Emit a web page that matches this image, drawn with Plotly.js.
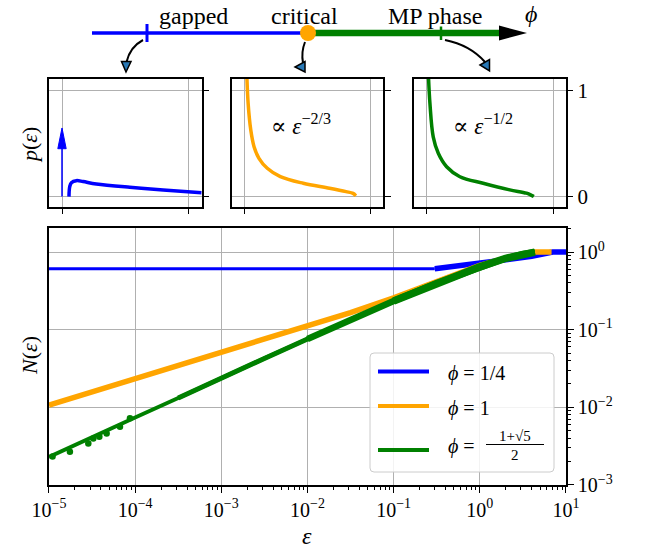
<!DOCTYPE html>
<html><head><meta charset="utf-8">
<script src="https://cdn.plot.ly/plotly-3.0.1.min.js"></script>
<style>body{margin:0;padding:0;background:#fff}#chart{width:647px;height:548px}</style>
</head><body><div id="chart"></div>
<script>
// ---------- main panel data: N(eps) ----------
const epsBlueFlat = [1e-5, 1e-4, 1e-3, 1e-2, 1e-1, 0.3];
const nBlueFlat   = [0.608, 0.608, 0.608, 0.608, 0.608, 0.608];
const epsBlueTail = [0.3, 0.5, 1, 2, 4, 7, 10];
const nBlueTail   = [0.61, 0.66, 0.72, 0.80, 0.88, 1.0, 1.0];

const epsOrange = [1e-5, 3.16e-5, 1e-4, 3.16e-4, 1e-3, 3.16e-3, 1e-2, 3.16e-2, 0.1, 0.316, 1, 2, 3.16, 4.4, 6.8];
const nOrange   = [0.0107, 0.0158, 0.0229, 0.0339, 0.0501, 0.0741, 0.110, 0.166, 0.257, 0.417, 0.676, 0.832, 0.933, 1.0, 1.0];

const epsGreen = [1e-5, 3.16e-5, 1e-4, 3.16e-4, 1e-3, 3.16e-3, 1e-2, 3.16e-2, 0.1, 0.316, 1, 2, 3.16, 4.35];
const nGreen   = [0.00229, 0.00417, 0.00741, 0.0132, 0.0240, 0.0427, 0.0759, 0.135, 0.234, 0.398, 0.646, 0.832, 0.944, 1.0];
const epsGreenDots = [1.1e-5, 1.75e-5, 2.86e-5, 3.27e-5, 3.84e-5, 4.67e-5, 6.67e-5, 8.7e-5];
const nGreenDots   = [0.00232, 0.00267, 0.00343, 0.00398, 0.00418, 0.00462, 0.00562, 0.00723];

// ---------- small panels: p(eps) ----------
const p1X = [0.055, 0.061, 0.074, 0.113, 0.166, 0.27, 0.534, 0.797, 1.1];
const p1Y = [0.0, 0.094, 0.131, 0.15, 0.141, 0.119, 0.088, 0.063, 0.037];
const p1DeltaX = [0, 0];
const p1DeltaY = [0, 0.46];
const p2X = [0.014, 0.026, 0.047, 0.073, 0.112, 0.178, 0.282, 0.464, 0.673, 0.804, 0.86, 0.882];
const p2Y = [1.2, 0.875, 0.625, 0.469, 0.36, 0.266, 0.187, 0.125, 0.079, 0.047, 0.03, 0.007];
const p3X = [0.012, 0.026, 0.052, 0.092, 0.158, 0.263, 0.447, 0.658, 0.79, 0.83, 0.848];
const p3Y = [1.2, 0.875, 0.562, 0.407, 0.281, 0.187, 0.125, 0.063, 0.032, 0.012, 0.0];

// ---------- tick labels ----------
const xTickVals = [1e-5, 1e-4, 1e-3, 1e-2, 1e-1, 1, 10];
const xTickText = ['10<sup>−5</sup>', '10<sup>−4</sup>', '10<sup>−3</sup>', '10<sup>−2</sup>', '10<sup>−1</sup>', '10<sup>0</sup>', '10<sup>1</sup>'];
const yTickVals = [1e-3, 1e-2, 1e-1, 1];
const yTickText = ['10<sup>−3</sup>', '10<sup>−2</sup>', '10<sup>−1</sup>', '10<sup>0</sup>'];
const pTickVals = [0, 1];
const pTickText = ['0', '1'];

// ---------- schematic (overlay coordinates, pixel-like) ----------
const phaseBlueX = [92, 307], phaseBlueY = [33, 33];
const phaseGreenX = [307, 503], phaseGreenY = [33, 33];
const phaseCritX = [308], phaseCritY = [33];
const phaseLabels = ['gapped', 'critical', 'MP phase'];
const phaseLabelX = [193, 304, 435];

const FONT = "'Liberation Serif', 'DejaVu Serif', serif";
const BLUE = '#0000ff', ORANGE = '#ffa500', GREEN = '#008000', GRID = '#b0b0b0';

const traces = [
  {x: epsBlueFlat, y: nBlueFlat, mode: 'lines', line: {color: BLUE, width: 3}, xaxis: 'x', yaxis: 'y'},
  {x: epsBlueTail, y: nBlueTail, mode: 'lines', line: {color: BLUE, width: 5.5}, xaxis: 'x', yaxis: 'y'},
  {x: epsOrange, y: nOrange, mode: 'lines', line: {color: ORANGE, width: 5.5}, xaxis: 'x', yaxis: 'y'},
  {x: epsGreen, y: nGreen, mode: 'lines', line: {color: GREEN, width: 4}, xaxis: 'x', yaxis: 'y'},
  {x: epsGreen.slice(3), y: nGreen.slice(3), mode: 'lines', line: {color: GREEN, width: 5}, xaxis: 'x', yaxis: 'y'},
  {x: epsGreen.slice(6), y: nGreen.slice(6), mode: 'lines', line: {color: GREEN, width: 6.5}, xaxis: 'x', yaxis: 'y'},
  {x: epsGreen.slice(8), y: nGreen.slice(8), mode: 'lines', line: {color: GREEN, width: 7.5}, xaxis: 'x', yaxis: 'y'},
  {x: epsGreenDots, y: nGreenDots, mode: 'markers', marker: {color: GREEN, size: 6.5}, xaxis: 'x', yaxis: 'y'},

  {x: p1DeltaX, y: p1DeltaY, mode: 'lines', line: {color: BLUE, width: 1.5}, xaxis: 'x2', yaxis: 'y2'},
  {x: p1X, y: p1Y, mode: 'lines', line: {color: BLUE, width: 3.5, shape: 'spline'}, xaxis: 'x2', yaxis: 'y2'},
  {x: p2X, y: p2Y, mode: 'lines', line: {color: ORANGE, width: 3.5, shape: 'spline'}, xaxis: 'x3', yaxis: 'y3'},
  {x: p3X, y: p3Y, mode: 'lines', line: {color: GREEN, width: 3.5, shape: 'spline'}, xaxis: 'x4', yaxis: 'y4'},

  {x: phaseBlueX, y: phaseBlueY, mode: 'lines', line: {color: BLUE, width: 3.5}, xaxis: 'x5', yaxis: 'y5'},
  {x: phaseGreenX, y: phaseGreenY, mode: 'lines', line: {color: GREEN, width: 6.5}, xaxis: 'x5', yaxis: 'y5'},
  {x: phaseCritX, y: phaseCritY, mode: 'markers', marker: {color: ORANGE, size: 16}, xaxis: 'x5', yaxis: 'y5'}
];

function smallX(domain, anchor) {
  return {domain: domain, range: [-0.1, 1.1], anchor: anchor, tickvals: pTickVals, ticks: 'outside',
    ticklen: 6, tickwidth: 1.3, tickcolor: 'black', showticklabels: false, showgrid: true,
    gridcolor: GRID, gridwidth: 1.2, zeroline: false, showline: true, linecolor: 'black',
    linewidth: 1.5, mirror: true, fixedrange: true};
}
function smallY(anchor, labels) {
  return {domain: [0.6228, 0.8558], range: [-0.095, 1.105], anchor: anchor, side: 'right',
    tickvals: pTickVals, ticktext: pTickText, ticks: 'outside', ticklen: 6, tickwidth: 1.3,
    tickcolor: 'black', showticklabels: labels, tickfont: {family: FONT, size: 21, color: 'black'},
    showgrid: true, gridcolor: GRID, gridwidth: 1.2, zeroline: false, showline: true,
    linecolor: 'black', linewidth: 1.5, mirror: true, fixedrange: true};
}

const shapes = [
  // phase-line arrowhead and ticks
  {type: 'path', xref: 'x5', yref: 'y5', path: 'M 499 25.5 L 527 33 L 499 40.5 Z', fillcolor: 'black', line: {width: 0}},
  {type: 'line', xref: 'x5', yref: 'y5', x0: 147, x1: 147, y0: 24, y1: 42, line: {color: BLUE, width: 3}},
  {type: 'line', xref: 'x5', yref: 'y5', x0: 441, x1: 441, y0: 26.5, y1: 40, line: {color: GREEN, width: 2.5}},
  // curved arrows
  {type: 'path', xref: 'x5', yref: 'y5', path: 'M 143 40 Q 130 47 126.5 62', line: {color: 'black', width: 2}},
  {type: 'path', xref: 'x5', yref: 'y5', path: 'M 121.5 61.5 L 131 61.5 L 126 72 Z', fillcolor: '#2878b5', line: {color: 'black', width: 1.5}},
  {type: 'path', xref: 'x5', yref: 'y5', path: 'M 305 42 Q 301 52 303 63', line: {color: 'black', width: 2}},
  {type: 'path', xref: 'x5', yref: 'y5', path: 'M 305 61.5 L 305 72 L 295 67 Z', fillcolor: '#2878b5', line: {color: 'black', width: 1.5}},
  {type: 'path', xref: 'x5', yref: 'y5', path: 'M 445 40 Q 470 45 485 62', line: {color: 'black', width: 2}},
  {type: 'path', xref: 'x5', yref: 'y5', path: 'M 480 65 L 489.5 59.5 L 489.5 71 Z', fillcolor: '#2878b5', line: {color: 'black', width: 1.5}},
  // delta-peak arrowhead in panel 1
  {type: 'path', xref: 'x2', yref: 'y2', path: 'M -0.033 0.45 L 0 0.645 L 0.033 0.45 Z', fillcolor: BLUE, line: {color: BLUE, width: 1}},
  // legend box
  {type: 'path', xref: 'x5', yref: 'y5', path: 'M 374 353 L 550 353 Q 554 353 554 357 L 554 468 Q 554 472 550 472 L 374 472 Q 370 472 370 468 L 370 357 Q 370 353 374 353 Z',
   fillcolor: 'rgba(255,255,255,0.85)', line: {color: '#cccccc', width: 1}},
  {type: 'line', xref: 'x5', yref: 'y5', x0: 378, x1: 429, y0: 371.5, y1: 371.5, line: {color: BLUE, width: 4}},
  {type: 'line', xref: 'x5', yref: 'y5', x0: 378, x1: 429, y0: 406, y1: 406, line: {color: ORANGE, width: 4}},
  {type: 'line', xref: 'x5', yref: 'y5', x0: 378, x1: 429, y0: 450, y1: 450, line: {color: GREEN, width: 4}},
  {type: 'line', xref: 'x5', yref: 'y5', x0: 486, x1: 544, y0: 444.5, y1: 444.5, line: {color: 'black', width: 1}}
];

function ann(x, y, text, size, extra) {
  return Object.assign({xref: 'x5', yref: 'y5', x: x, y: y, text: text, showarrow: false,
    font: {family: FONT, size: size, color: 'black'}, xanchor: 'center', yanchor: 'middle'}, extra || {});
}

const annotations = [
  ann(phaseLabelX[0], 16, phaseLabels[0], 24),
  ann(phaseLabelX[1], 16, phaseLabels[1], 24),
  ann(phaseLabelX[2], 16, phaseLabels[2], 24),
  ann(531, 14, '<i>ϕ</i>', 24),
  ann(301, 124, '∝ <i>ε</i><sup>−2/3</sup>', 23),
  ann(483, 124, '∝ <i>ε</i><sup>−1/2</sup>', 23),
  ann(29, 145, '<i>p</i>(<i>ε</i>)', 22, {textangle: -90}),
  ann(29, 356, '<i>N</i>(<i>ε</i>)', 22, {textangle: -90}),
  ann(307, 536, '<i>ε</i>', 24),
  ann(446, 373, '<i>ϕ</i> = 1/4', 20, {xanchor: 'left'}),
  ann(446, 408, '<i>ϕ</i> = 1', 20, {xanchor: 'left'}),
  ann(446, 446, '<i>ϕ</i> =', 20, {xanchor: 'left'}),
  ann(515, 436, '1+√5', 15),
  ann(515, 455, '2', 15)
];

const layout = {
  width: 647, height: 548, autosize: false,
  margin: {l: 0, r: 0, t: 0, b: 0, pad: 0},
  paper_bgcolor: 'white', plot_bgcolor: 'rgba(0,0,0,0)',
  showlegend: false,
  font: {family: FONT, size: 20, color: 'black'},
  xaxis: {type: 'log', domain: [0.0757, 0.8748], range: [-5, 1], anchor: 'y',
    tickmode: 'array', tickvals: xTickVals, ticktext: xTickText, ticks: 'outside', ticklen: 6,
    tickwidth: 1.3, tickcolor: 'black', tickfont: {family: FONT, size: 20, color: 'black'},
    showgrid: true, gridcolor: GRID, gridwidth: 1.2, zeroline: false, showline: true,
    linecolor: 'black', linewidth: 1.5, mirror: true, fixedrange: true,
    minor: {ticks: 'outside', ticklen: 3.5, tickwidth: 1, tickcolor: 'black', dtick: 'D1', showgrid: false}},
  yaxis: {type: 'log', domain: [0.1150, 0.5839], range: [-3, 0.31], anchor: 'x', side: 'right',
    tickmode: 'array', tickvals: yTickVals, ticktext: yTickText, ticks: 'outside', ticklen: 6,
    tickwidth: 1.3, tickcolor: 'black', tickfont: {family: FONT, size: 20, color: 'black'},
    showgrid: true, gridcolor: GRID, gridwidth: 1.2, zeroline: false, showline: true,
    linecolor: 'black', linewidth: 1.5, mirror: true, fixedrange: true,
    minor: {ticks: 'outside', ticklen: 3.5, tickwidth: 1, tickcolor: 'black', dtick: 'D1', showgrid: false}},
  xaxis2: smallX([0.0762, 0.3117], 'y2'),
  yaxis2: smallY('x2', false),
  xaxis3: smallX([0.3590, 0.5924], 'y3'),
  yaxis3: smallY('x3', false),
  xaxis4: smallX([0.6399, 0.8743], 'y4'),
  yaxis4: smallY('x4', true),
  xaxis5: {domain: [0, 1], range: [0, 647], anchor: 'y5', visible: false, fixedrange: true},
  yaxis5: {domain: [0, 1], range: [548, 0], anchor: 'x5', visible: false, fixedrange: true},
  shapes: shapes,
  annotations: annotations
};

Plotly.newPlot('chart', traces, layout, {displayModeBar: false});
</script></body></html>
